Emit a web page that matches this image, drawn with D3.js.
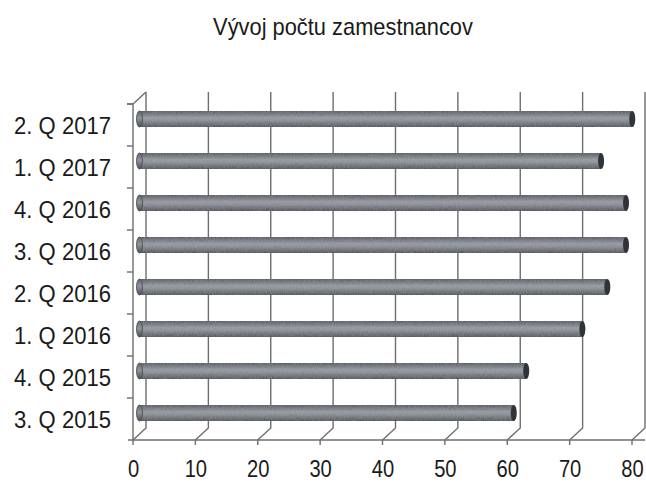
<!DOCTYPE html>
<html><head><meta charset="utf-8">
<script src="https://cdn.jsdelivr.net/npm/d3@7/dist/d3.min.js"></script>
<style>
html,body{margin:0;padding:0;background:#fff;}
svg{display:block;}
text{font-family:"Liberation Sans",Arial,sans-serif;fill:#1a1a1a;}
</style></head>
<body>
<svg id="chart" width="646" height="483"></svg>
<script>
const title = "Vývoj počtu zamestnancov";
const categories = ["3. Q 2015","4. Q 2015","1. Q 2016","2. Q 2016","3. Q 2016","4. Q 2016","1. Q 2017","2. Q 2017"];
const employees = [60, 62, 71, 75, 78, 78, 74, 79];
const xTicks = [0,10,20,30,40,50,60,70,80];

const svg = d3.select("#chart");
const frontLeft = 133, frontRight = 632, floorY = 440, topY = 104;
const dx = 13, dy = -12;

const x = d3.scaleLinear().domain([0,80]).range([frontLeft, frontRight]);
const y = d3.scaleBand().domain(categories).range([floorY, topY]);

const defs = svg.append("defs");
const g = defs.append("linearGradient").attr("id","cyl").attr("x1",0).attr("y1",0).attr("x2",0).attr("y2",1);
[[0,"#474a51"],[0.2,"#6c7078"],[0.42,"#93979e"],[0.6,"#868a91"],[0.85,"#5b5e65"],[1,"#3b3e44"]]
  .forEach(([o,c])=>g.append("stop").attr("offset",o).attr("stop-color",c));
const gc = defs.append("linearGradient").attr("id","cap").attr("x1",0).attr("y1",0).attr("x2",0).attr("y2",1);
[[0,"#62666e"],[0.45,"#8f939a"],[1,"#4b4e55"]].forEach(([o,c])=>gc.append("stop").attr("offset",o).attr("stop-color",c));

const f = defs.append("filter").attr("id","grain").attr("x","0").attr("y","0").attr("width","1").attr("height","1");
f.append("feTurbulence").attr("type","fractalNoise").attr("baseFrequency","0.9 0.35").attr("numOctaves",2).attr("seed",3).attr("result","n");
f.append("feColorMatrix").attr("in","n").attr("type","matrix")
  .attr("values","0 0 0 0 0.45  0 0 0 0 0.46  0 0 0 0 0.5  0 0 0 0.35 0").attr("result","nc");
f.append("feComposite").attr("in","nc").attr("in2","SourceGraphic").attr("operator","in").attr("result","nm");
f.append("feMerge").call(m=>{m.append("feMergeNode").attr("in","SourceGraphic");m.append("feMergeNode").attr("in","nm");});

const gridColor = "#6e6e6e";

// title
svg.append("text").attr("x",343).attr("y",35).attr("text-anchor","middle")
  .attr("font-size",23).attr("transform","translate(343,0) scale(0.95,1) translate(-343,0)")
  .text(title);

// back wall vertical gridlines + floor diagonals
const grid = svg.append("g").attr("stroke",gridColor).attr("stroke-width",1.4).attr("fill","none");
xTicks.forEach(t=>{
  const fx = x(t);
  grid.append("path").attr("d",`M${fx},${floorY} L${fx+dx},${floorY+dy} L${fx+dx},${topY+dy}`);
});
grid.append("path").attr("d",`M${frontLeft},${floorY} L${frontLeft},${topY} L${frontLeft+dx},${topY+dy}`);
grid.append("line").attr("x1",frontLeft-5).attr("x2",x(80)+dx).attr("y1",floorY).attr("y2",floorY);
xTicks.forEach(t=>{
  grid.append("line").attr("x1",x(t)).attr("x2",x(t)).attr("y1",floorY).attr("y2",floorY+5);
});
const bounds = categories.map(c=>y(c)).concat([topY]);
bounds.forEach(b=>{
  grid.append("line").attr("x1",frontLeft-6).attr("x2",frontLeft).attr("y1",b).attr("y2",b);
});

// bars (cylinders)
const r = 8, capR = 3;
const bars = svg.append("g");
categories.forEach((c,i)=>{
  const cy = y(c) + y.bandwidth()/2 + dy/2;
  const x0 = x(0) + dx/2, x1 = x(employees[i]) + dx/2;
  const b = bars.append("g");
  b.append("rect").attr("x",x0).attr("y",cy-r).attr("width",x1-x0).attr("height",2*r)
    .attr("fill","url(#cyl)").attr("filter","url(#grain)");
  b.append("ellipse").attr("cx",x1).attr("cy",cy).attr("rx",capR).attr("ry",r).attr("fill","#303338");
  b.append("ellipse").attr("cx",x0).attr("cy",cy).attr("rx",capR).attr("ry",r)
    .attr("fill","url(#cap)").attr("stroke","#45484f").attr("stroke-width",0.8);
});

// category labels
const yAxis = svg.append("g").attr("transform",`translate(111,0)`)
  .call(d3.axisLeft(y).tickSize(0).tickPadding(0));
yAxis.select(".domain").remove();
yAxis.selectAll("text").attr("font-size",24).attr("fill","#1a1a1a")
  .attr("font-family","Liberation Sans, Arial, sans-serif")
  .attr("text-anchor","end").attr("dy","0.36em")
  .attr("transform","scale(0.92,1)").attr("x",0);
yAxis.selectAll(".tick").each(function(){
  const t = d3.select(this).attr("transform");
  const m = /translate\(([^,]+),([^)]+)\)/.exec(t);
  d3.select(this).attr("transform",`translate(0,${+m[2]+0.5})`);
});

// x tick labels
const xAxis = svg.append("g").attr("transform",`translate(0,${floorY})`)
  .call(d3.axisBottom(x).tickValues(xTicks).tickSize(0).tickPadding(0).tickFormat(d3.format("d")));
xAxis.select(".domain").remove();
xAxis.selectAll("text").attr("font-size",24).attr("fill","#1a1a1a")
  .attr("font-family","Liberation Sans, Arial, sans-serif")
  .attr("dy",null).attr("y",37.5).attr("transform","scale(0.84,1)");
</script>
</body></html>
